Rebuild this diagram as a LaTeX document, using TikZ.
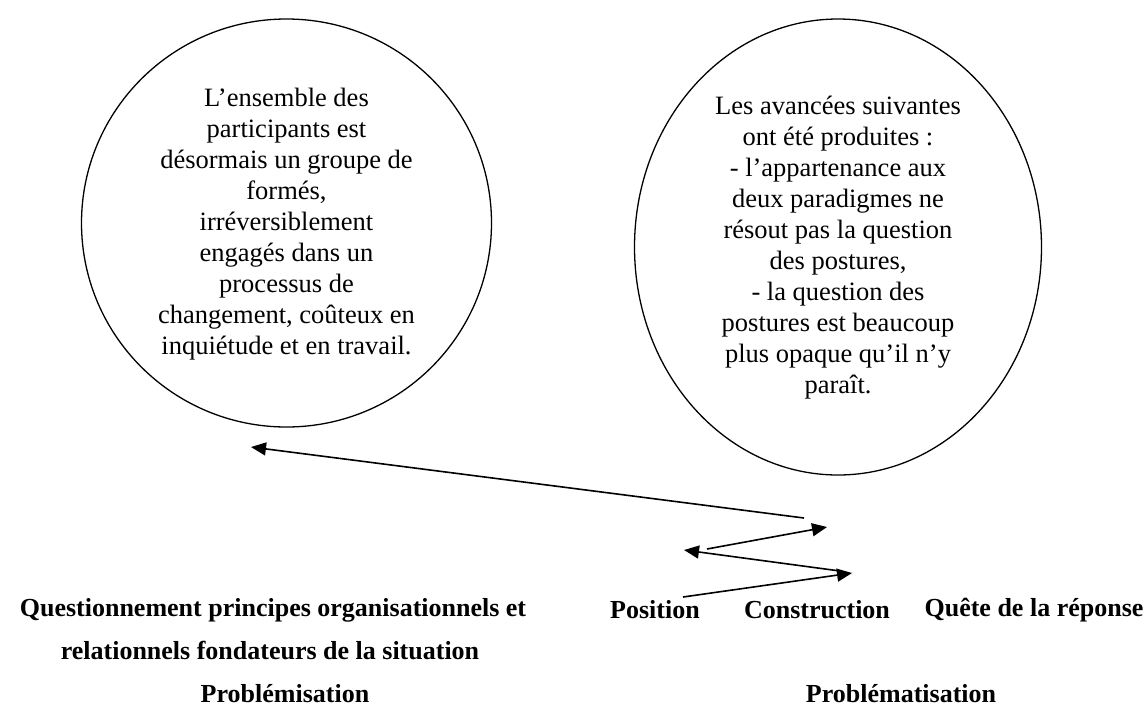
\documentclass[tikz,border=0pt]{standalone}
\usepackage{fontspec}
\setmainfont{Liberation Serif}
\usetikzlibrary{shapes.geometric, arrows.meta}

\begin{document}
\begin{tikzpicture}[x=1pt, y=-1pt,
  bulle/.style={ellipse, draw, line width=1.3pt, inner sep=0pt},
  texte/.style={align=center, font=\fontsize{26.5}{31}\selectfont},
  titre/.style={font=\fontsize{26}{30}\selectfont\bfseries},
  fleche/.style={line width=1.6pt, -{Triangle[length=15pt, width=13pt]}}]
\useasboundingbox (0,0) rectangle (1145,716);

\node[bulle, minimum width=410pt, minimum height=408pt] (cercle) at (286.5,223) {};
\node[bulle, minimum width=407pt, minimum height=456pt] (ovale) at (838,247) {};

\node[texte] (formes) at (286.5,224) {L’ensemble des\\ participants est\\ désormais un groupe de\\ formés,\\ irréversiblement\\ engagés dans un\\ processus de\\ changement, coûteux en\\ inquiétude et en travail.};
\node[texte] (avancees) at (838,248) {Les avancées suivantes\\ ont été produites :\\ - l’appartenance aux\\ deux paradigmes ne\\ résout pas la question\\ des postures,\\ - la question des\\ postures est beaucoup\\ plus opaque qu’il n’y\\ paraît.};

\coordinate (d1) at (683,597);
\coordinate (d2) at (852,573);
\coordinate (c1) at (840,571);
\coordinate (c2) at (684,550);
\coordinate (b1) at (707,549);
\coordinate (b2) at (827,527);
\coordinate (a1) at (804,518);
\coordinate (a2) at (251,447);

\draw[fleche] (d1) -- (d2);
\draw[fleche] (c1) -- (c2);
\draw[fleche] (b1) -- (b2);
\draw[fleche] (a1) -- (a2);

\node[titre] (question) at (273,610) {Questionnement principes organisationnels et};
\node[titre] (relation) at (270,650) {relationnels fondateurs de la situation};
\node[titre] (problemi) at (285,694) {Problémisation};

\node[titre] (position) at (655,610) {Position};
\node[titre] (construction) at (817,610) {Construction};
\node[titre] (quete) at (1034,610) {Quête de la réponse};
\node[titre] (problema) at (901,694) {Problématisation};
\end{tikzpicture}
\end{document}
